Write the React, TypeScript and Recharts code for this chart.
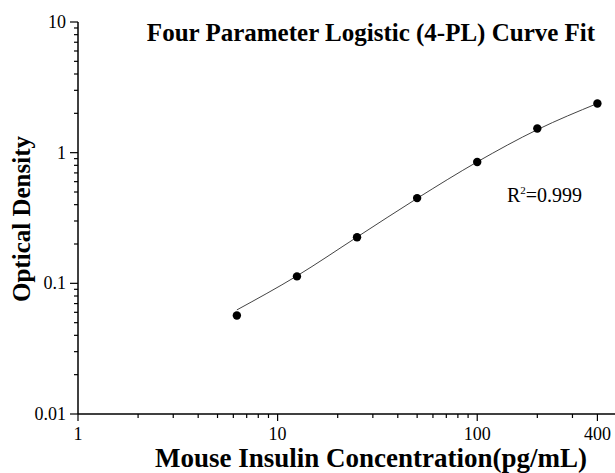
import React from 'react';
import {
  ComposedChart, Line, Scatter, XAxis, YAxis,
} from 'recharts';

// standards: concentration (pg/mL) and measured OD
const concentrations = [6.25, 12.5, 25, 50, 100, 200, 400];
const odValues = [0.0568, 0.113, 0.2255, 0.449, 0.848, 1.53, 2.38];
// fitted 4-PL curve at the same concentrations
const fitValues = [0.0626, 0.114, 0.226, 0.447, 0.85, 1.5, 2.38];

const xMajorTicks = [1, 10, 100, 400];
const xMinorTicks = [2, 3, 4, 5, 6, 7, 8, 9, 20, 30, 40, 50, 60, 70, 80, 90, 200, 300];
const yMajorTicks = [0.01, 0.1, 1, 10];
const yMinorTicks = [
  0.02, 0.03, 0.04, 0.05, 0.06, 0.07, 0.08, 0.09,
  0.2, 0.3, 0.4, 0.5, 0.6, 0.7, 0.8, 0.9,
  2, 3, 4, 5, 6, 7, 8, 9,
];

const chartTitle = 'Four Parameter Logistic (4-PL) Curve Fit';
const xTitle = 'Mouse Insulin Concentration(pg/mL)';
const yTitle = 'Optical Density';
const rSquared = '0.999';

const points = concentrations.map((x, i) => ({ x, y: odValues[i] }));
const curve = concentrations.map((x, i) => ({ x, y: fitValues[i] }));

const font = '"Liberation Serif", "Times New Roman", serif';

const XTick = ({ x, y, payload }) => {
  const major = xMajorTicks.includes(payload.value);
  return (
    <g>
      <line x1={x} y1={y} x2={x} y2={y + (major ? 7 : 4)} stroke="#000" strokeWidth={1.2} />
      {major && (
        <text x={x} y={y + 26} textAnchor="middle" fontSize={18} fontFamily={font} fill="#000">
          {payload.value}
        </text>
      )}
    </g>
  );
};

const YTick = ({ x, y, payload }) => {
  const major = yMajorTicks.includes(payload.value);
  return (
    <g>
      <line x1={x} y1={y} x2={x - (major ? 8 : 4)} y2={y} stroke="#000" strokeWidth={1.2} />
      {major && (
        <text x={x - 12} y={y + 6} textAnchor="end" fontSize={18} fontFamily={font} fill="#000">
          {payload.value}
        </text>
      )}
    </g>
  );
};

export default function App() {
  return (
    <div style={{ position: 'fixed', left: 0, top: 0, width: 615, height: 473, overflow: 'hidden', background: '#fff' }}>
      <ComposedChart
        width={615}
        height={473}
        margin={{ top: 22, right: 0, left: 0, bottom: 0 }}
      >
        <XAxis
          dataKey="x"
          type="number"
          scale="log"
          domain={[1, 490]}
          ticks={[...xMajorTicks, ...xMinorTicks].sort((a, b) => a - b)}
          interval={0}
          tickSize={0}
          tickMargin={0}
          tick={<XTick />}
          height={59}
          stroke="#000"
          strokeWidth={1.5}
        />
        <YAxis
          dataKey="y"
          type="number"
          scale="log"
          domain={[0.01, 10]}
          ticks={[...yMajorTicks, ...yMinorTicks].sort((a, b) => a - b)}
          interval={0}
          tickSize={0}
          tickMargin={0}
          tick={<YTick />}
          width={78}
          stroke="#000"
          strokeWidth={1.5}
        />
        <Line
          data={curve}
          dataKey="y"
          type="monotone"
          stroke="#444"
          strokeWidth={1}
          dot={false}
          activeDot={false}
          isAnimationActive={false}
        />
        <Scatter
          data={points}
          dataKey="y"
          fill="#000"
          shape={(props) => <circle cx={props.cx} cy={props.cy} r={4.2} fill="#000" />}
          isAnimationActive={false}
        />
      </ComposedChart>
      <svg
        width={615}
        height={473}
        style={{ position: 'absolute', left: 0, top: 0, pointerEvents: 'none' }}
      >
        <text x={371} y={41} textAnchor="middle" fontFamily={font} fontWeight="bold" fontSize={25} fill="#000">
          {chartTitle}
        </text>
        <text x={371} y={467} textAnchor="middle" fontFamily={font} fontWeight="bold" fontSize={27} fill="#000">
          {xTitle}
        </text>
        <text
          x={0}
          y={0}
          transform="translate(30,219) rotate(-90)"
          textAnchor="middle"
          fontFamily={font}
          fontWeight="bold"
          fontSize={25}
          fill="#000"
        >
          {yTitle}
        </text>
        <text x={507} y={202} fontFamily={font} fontSize={20} fill="#000">
          R
          <tspan fontSize={11} dy={-8}>2</tspan>
          <tspan dy={8}>{`=${rSquared}`}</tspan>
        </text>
      </svg>
    </div>
  );
}
